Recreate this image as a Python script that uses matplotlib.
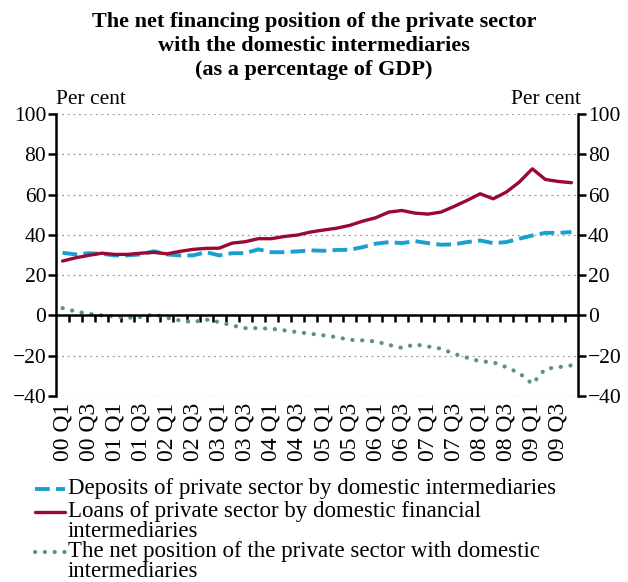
import matplotlib
matplotlib.use("Agg")
import matplotlib.pyplot as plt
from matplotlib.lines import Line2D
import numpy as np

plt.rcParams['font.family'] = ['Liberation Serif', 'DejaVu Serif']

# quarterly data 2000 Q1 - 2009 Q4
quarters = [f"{y:02d} Q{q}" for y in range(0, 10) for q in range(1, 5)]

deposits = [31.1, 30.3, 30.9, 30.6, 29.8, 29.8, 30.3, 31.9, 30.3, 29.8,
            29.8, 31.4, 29.8, 30.9, 30.9, 32.8, 31.4, 31.4, 31.8, 32.3,
            32.1, 32.5, 32.6, 33.9, 35.6, 36.4, 35.9, 36.9, 35.9, 35.1,
            35.3, 36.4, 37.2, 35.9, 36.4, 38.1, 39.7, 41.0, 41.0, 41.4]

loans = [27.0, 28.6, 29.8, 30.9, 30.3, 30.3, 30.9, 31.3, 30.6, 31.8,
         32.8, 33.3, 33.4, 35.9, 36.6, 38.1, 38.1, 39.2, 39.9, 41.4,
         42.4, 43.3, 44.7, 46.8, 48.5, 51.3, 52.1, 50.8, 50.3, 51.3,
         54.1, 57.1, 60.4, 57.9, 61.2, 66.2, 72.8, 67.5, 66.5, 65.9]

net = [3.6, 2.0, 0.8, 0.0, -0.5, -1.2, -0.8, 0.5, -1.2, -2.5,
       -3.3, -2.0, -3.3, -5.0, -6.3, -6.3, -6.6, -7.4, -8.3, -9.1,
       -9.9, -10.8, -12.1, -12.4, -12.9, -14.6, -16.1, -14.4, -15.4, -16.5,
       -19.0, -21.0, -22.8, -23.2, -25.7, -28.6, -34.0, -26.5, -25.7, -24.8]

labels = ["Deposits of private sector by domestic intermediaries",
          "Loans of private sector by domestic financial\nintermediaries",
          "The net position of the private sector with domestic\nintermediaries"]

blue = "#1a9fcf"
red = "#990a33"
green = "#5b9478"

dep_style = dict(color=blue, lw=2.8, ls=(0, (3.8, 1.6)), dash_capstyle='butt')
loan_style = dict(color=red, lw=2.4, solid_capstyle='round')
net_style = dict(color=green, lw=3.0, ls=(0, (0.05, 2.3)), dash_capstyle='round')

fig = plt.figure(figsize=(6.28, 5.82), dpi=100)
ax = fig.add_axes([56 / 628, 1 - 396 / 582, 522 / 628, 282 / 582])

x = np.arange(len(quarters))
ax.plot(x, deposits, **dep_style)
ax.plot(x, loans, **loan_style)
ax.plot(x, net, **net_style)

ax.set_xlim(-0.5, 39.5)
ax.set_ylim(-40, 100)
yt = np.arange(-40, 101, 20)
ax.set_yticks(yt)
ax.set_yticklabels([f"{v:d}".replace("-", "\u2212") for v in yt])
for v in yt:
    if v != 0:
        ax.axhline(v, color="#9a9a9a", lw=0.9, ls=(0, (1.5, 3)), zorder=0)

ax.spines['top'].set_visible(False)
ax.spines['bottom'].set_position(('data', 0))
for s in ['left', 'right', 'bottom']:
    ax.spines[s].set_linewidth(1.8)
ax.tick_params(axis='y', which='both', left=True, right=True, labelleft=True,
               labelright=True, direction='out', length=6, width=1.8,
               labelsize=15.5, pad=1)

# tick marks at quarter boundaries on the zero line
ax.set_xticks(np.arange(0.5, 39, 1))
ax.tick_params(axis='x', direction='out', length=5, width=1.8, labelbottom=False)

sec = ax.secondary_xaxis(0.0)
sec.set_xticks(x[::2])
sec.set_xticklabels(quarters[::2], rotation=90, fontsize=17)
sec.tick_params(length=0, pad=5)
sec.spines['bottom'].set_visible(False)

fig.text(56 / 628, 1 - 104 / 582, "Per cent", fontsize=15.5, ha='left', va='baseline')
fig.text(581 / 628, 1 - 104 / 582, "Per cent", fontsize=15.5, ha='right', va='baseline')

fig.text(0.5, 1 - 12 / 582,
         "The net financing position of the private sector\n"
         "with the domestic intermediaries\n(as a percentage of GDP)",
         fontsize=16, fontweight='bold', ha='center', va='top',
         linespacing=1.28)

# legend drawn by hand so handles sit on the first text line
ys = [489, 512, 552]
for lab, st, yy in zip(labels, [dep_style, loan_style, net_style], ys):
    yf = 1 - yy / 582
    fig.add_artist(Line2D([35 / 628, 65 / 628], [yf, yf], **st))
    fig.text(68 / 628, 1 - (yy - 11) / 582, lab, fontsize=16.5, ha='left', va='top',
             linespacing=0.92)

fig.savefig("out.png", dpi=100)
